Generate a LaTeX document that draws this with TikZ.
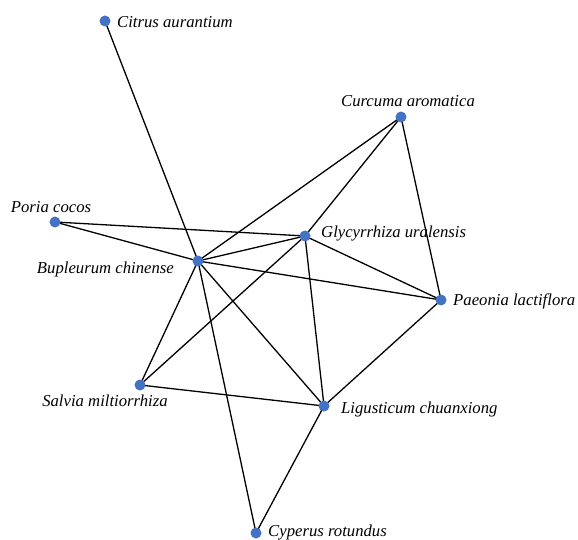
\documentclass[tikz,border=0pt]{standalone}
\usepackage{fontspec}
\setmainfont{Liberation Serif}
\begin{document}
\begin{tikzpicture}[x=1pt,y=-1pt,
  dot/.style={circle,fill=dotblue,inner sep=0pt,minimum size=11pt},
  lab/.style={font=\itshape\fontsize{16.7}{19}\selectfont,inner sep=0pt},
  edge/.style={draw=black,line width=1.3pt}]
\definecolor{dotblue}{RGB}{68,114,196}
\useasboundingbox (0,0) rectangle (578,540);
\coordinate (cit) at (105,21);
\coordinate (cur) at (401,117);
\coordinate (por) at (55,222);
\coordinate (gly) at (305,236);
\coordinate (bup) at (198,261);
\coordinate (pae) at (441,300);
\coordinate (sal) at (140,385);
\coordinate (lig) at (324,406);
\coordinate (cyp) at (256,533);
\foreach \a/\b in {cit/bup,cur/bup,cur/gly,cur/pae,por/gly,por/bup,bup/gly,bup/pae,bup/sal,bup/lig,bup/cyp,gly/pae,gly/sal,gly/lig,pae/lig,sal/lig,lig/cyp}
  \draw[edge] (\a) -- (\b);
\foreach \n in {cit,cur,por,gly,bup,pae,sal,lig,cyp}
  \node[dot] (d\n) at (\n) {};
\node[lab,anchor=west] (lcit) at (117,22) {Citrus aurantium};
\node[lab] (lcur) at (408,101) {Curcuma aromatica};
\node[lab] (lpor) at (51,207) {Poria cocos};
\node[lab,anchor=west] (lgly) at (321,234) {Glycyrrhiza uralensis};
\node[lab,anchor=east] (lbup) at (174,269) {Bupleurum chinense};
\node[lab,anchor=west] (lpae) at (453,301) {Paeonia lactiflora};
\node[lab] (lsal) at (105,401) {Salvia miltiorrhiza};
\node[lab,anchor=west] (llig) at (341,409) {Ligusticum chuanxiong};
\node[lab,anchor=west] (lcyp) at (268,533) {Cyperus rotundus};
\end{tikzpicture}
\end{document}
